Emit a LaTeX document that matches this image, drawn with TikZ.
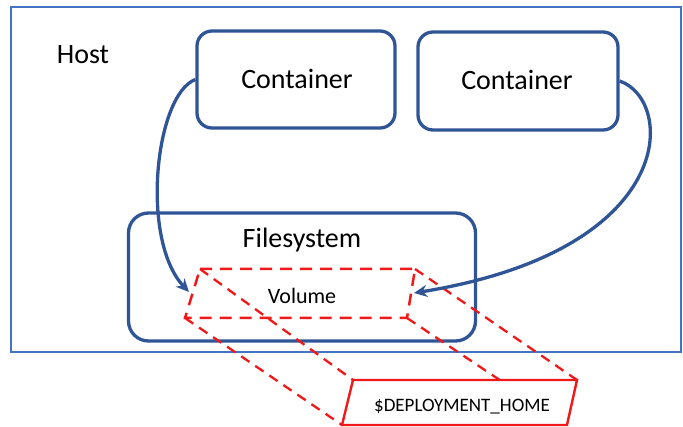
\documentclass[tikz,border=0pt]{standalone}
\usepackage{fontspec}
\setmainfont{Carlito}
\usetikzlibrary{arrows.meta}
\definecolor{hostblue}{HTML}{4472C4}
\definecolor{darkblue}{HTML}{2F5597}
\definecolor{vred}{HTML}{F01818}
\begin{document}
\begin{tikzpicture}[x=1pt,y=-1pt,
  box/.style={draw=darkblue, line width=3.3pt, rounded corners=15pt, inner sep=0pt},
  big/.style={font=\fontsize{28}{30}\selectfont, inner sep=0pt},
  flow/.style={draw=darkblue, line width=3.3pt, -{Stealth[length=13pt,width=12pt]}},
  vdash/.style={draw=vred, line width=2.5pt, dash pattern=on 12pt off 8pt},
  ddash/.style={draw=vred, line width=2.3pt, dash pattern=on 10pt off 7pt}]
\useasboundingbox (0,0) rectangle (683,427);
% host
\node[draw=hostblue, line width=2pt, minimum width=670pt, minimum height=345pt, inner sep=0pt] (host) at (346,179.5) {};
\node[big] (hostlabel) at (83,55) {Host};
% containers
\node[box, minimum width=198pt, minimum height=97pt] (c1) at (296,79.5) {};
\node[big] (c1label) at (297,79) {Container};
\node[box, minimum width=200pt, minimum height=98pt] (c2) at (518,81) {};
\node[big] (c2label) at (517,80) {Container};
% filesystem
\node[box, rounded corners=20pt, minimum width=347pt, minimum height=128pt] (fs) at (302,277) {};
\node[big] (fslabel) at (302,240) {Filesystem};
% volume corners
\coordinate (vTL) at (200,269);
\coordinate (vTR) at (415,269);
\coordinate (vBR) at (407,318);
\coordinate (vBL) at (185,318);
% deployment corners
\coordinate (dTL) at (353,380);
\coordinate (dTR) at (577,380);
\coordinate (dBR) at (567,425);
\coordinate (dBL) at (342,425);
% projection lines
\draw[ddash] (vTL) -- (dTL);
\draw[ddash] (vTR) -- (dTR);
\draw[ddash] (vBL) -- (dBL);
\draw[ddash] (vBR) -- (dBR);
% deployment box
\draw[vred, line width=2.4pt, fill=white, line join=miter] (dTL) -- (dTR) -- (dBR) -- (dBL) -- cycle;
\node[font=\fontsize{19}{21}\selectfont, inner sep=0pt] (dep) at (462,407) {\$DEPLOYMENT\_HOME};
% volume box
\draw[vdash] (vTL) -- (vTR) -- (vBR) -- (vBL) -- cycle;
\node[font=\fontsize{22}{24}\selectfont, inner sep=0pt] (vol) at (302,296) {Volume};
% arrows
\coordinate (volL) at (189,292);
\coordinate (volR) at (414,293);
\draw[flow] (c1.west) .. controls (155,95) and (140,240) .. (volL);
\draw[flow] (c2.east) .. controls (675,100) and (680,250) .. (volR);
\end{tikzpicture}
\end{document}
